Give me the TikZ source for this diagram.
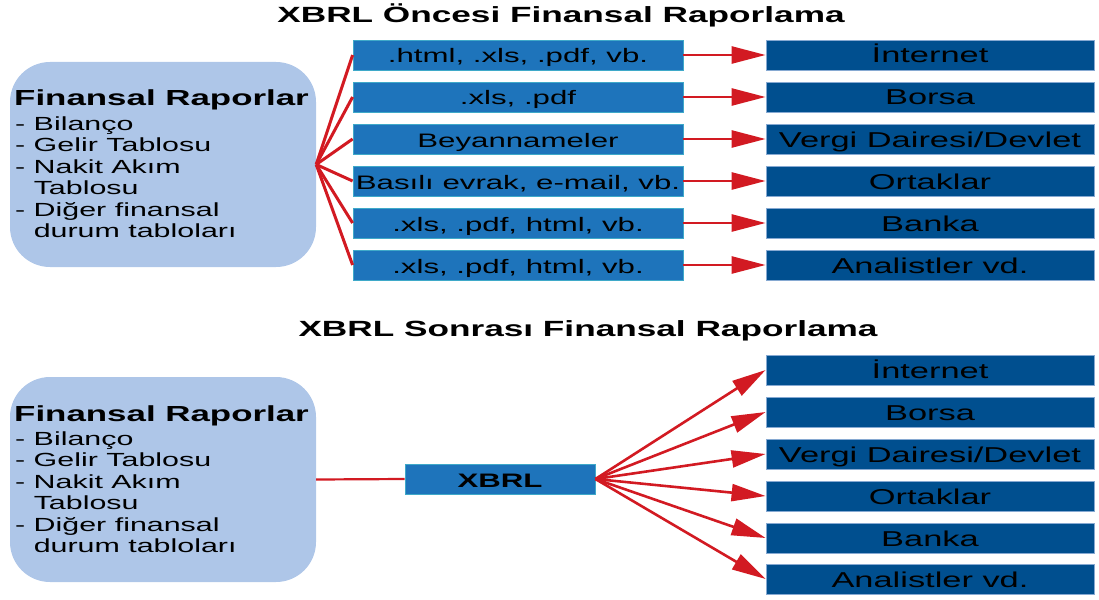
\documentclass[tikz,border=0pt]{standalone}
\usepackage{fontspec}
\setmainfont{Liberation Sans}[FakeStretch=1.6]
\usetikzlibrary{arrows.meta}
\definecolor{redl}{HTML}{D21A22}
\definecolor{midblue}{HTML}{1E74BB}
\definecolor{midedge}{HTML}{3FA9C9}
\definecolor{darkblue}{HTML}{004F8F}
\definecolor{darkedge}{HTML}{86A9D2}
\definecolor{lightblue}{HTML}{AEC6E8}
\newcommand\finlist[2]{%
  \node[anchor=base west, ttlsrc] (#1t) at (14,#2+8) {Finansal Raporlar};
  \node[anchor=base west, item] (#1a) at (15,#2+32) {- Bilanço};
  \node[anchor=base west, item] (#1b) at (15,#2+53.5) {- Gelir Tablosu};
  \node[anchor=base west, item] (#1c) at (15,#2+75) {- Nakit Akım};
  \node[anchor=base west, item] (#1d) at (15,#2+96.5) {\phantom{- }Tablosu};
  \node[anchor=base west, item] (#1e) at (15,#2+118) {- Diğer finansal};
  \node[anchor=base west, item] (#1f) at (15,#2+139.5) {\phantom{- }durum tabloları};
}
\begin{document}
\begin{tikzpicture}[x=1pt,y=-1pt,
  midbox/.style={draw=midedge, line width=0.8pt, fill=midblue, minimum width=330pt, minimum height=30pt, inner sep=0pt, text height=16pt, text depth=0pt, font=\fontsize{19.5}{20}\selectfont},
  destbox/.style={draw=darkedge, line width=0.8pt, fill=darkblue, minimum width=328pt, minimum height=30pt, inner sep=0pt, text height=16pt, text depth=0pt, font=\fontsize{21.5}{22}\selectfont},
  xbox/.style={draw=midedge, line width=0.8pt, fill=midblue, minimum width=190pt, minimum height=30pt, inner sep=0pt, text height=16pt, text depth=0pt, font=\fontsize{19.5}{20}\selectfont\bfseries},
  srcbox/.style={fill=lightblue, rounded corners=40pt, minimum width=306pt, minimum height=205pt, inner sep=0pt},
  ttl/.style={font=\fontsize{22}{22}\selectfont\bfseries, inner sep=0pt},
  ttlsrc/.style={font=\fontsize{21.8}{22}\selectfont\bfseries, inner sep=0pt},
  item/.style={font=\fontsize{19}{20}\selectfont, inner sep=0pt},
  fan/.style={draw=redl, line width=3pt},
  link/.style={draw=redl, line width=2.2pt},
  flow/.style={draw=redl, line width=2.6pt, -{Triangle[length=34pt,width=17pt]}}
]
\useasboundingbox (0,0) rectangle (1099,599);

% titles
\node[ttl] (t1) at (561,15) {XBRL Öncesi Finansal Raporlama};
\node[ttl] (t2) at (588,331) {XBRL Sonrası Finansal Raporlama};

% top section
\node[srcbox] (s1) at (163,164.5) {};
\finlist{p}{98}
\node[midbox] (m1) at (518,55) {.html, .xls, .pdf, vb.};
\node[midbox] (m2) at (518,97) {.xls, .pdf};
\node[midbox] (m3) at (518,139) {Beyannameler};
\node[midbox] (m4) at (518,181) {Basılı evrak, e-mail, vb.};
\node[midbox] (m5) at (518,223) {.xls, .pdf, html, vb.};
\node[midbox] (m6) at (518,265) {.xls, .pdf, html, vb.};
\node[destbox] (d1) at (930,55) {İnternet};
\node[destbox] (d2) at (930,97) {Borsa};
\node[destbox] (d3) at (930,139) {Vergi Dairesi/Devlet};
\node[destbox] (d4) at (930,181) {Ortaklar};
\node[destbox] (d5) at (930,223) {Banka};
\node[destbox] (d6) at (930,265) {Analistler vd.};
\foreach \i in {1,...,6}{
  \draw[fan] (s1.east) -- (m\i.west);
  \draw[flow] (m\i.east) -- (d\i.west);
}

% bottom section
\node[srcbox] (s2) at (163,479.5) {};
\finlist{q}{413}
\node[xbox] (x) at (500,479) {XBRL};
\node[destbox] (e1) at (930,370) {İnternet};
\node[destbox] (e2) at (930,412) {Borsa};
\node[destbox] (e3) at (930,454) {Vergi Dairesi/Devlet};
\node[destbox] (e4) at (930,496) {Ortaklar};
\node[destbox] (e5) at (930,538) {Banka};
\node[destbox] (e6) at (930,579) {Analistler vd.};
\draw[link] (s2.east) -- (x.west);
\foreach \i in {1,...,6}{
  \draw[flow] (x.east) -- (e\i.west);
}
\end{tikzpicture}
\end{document}
